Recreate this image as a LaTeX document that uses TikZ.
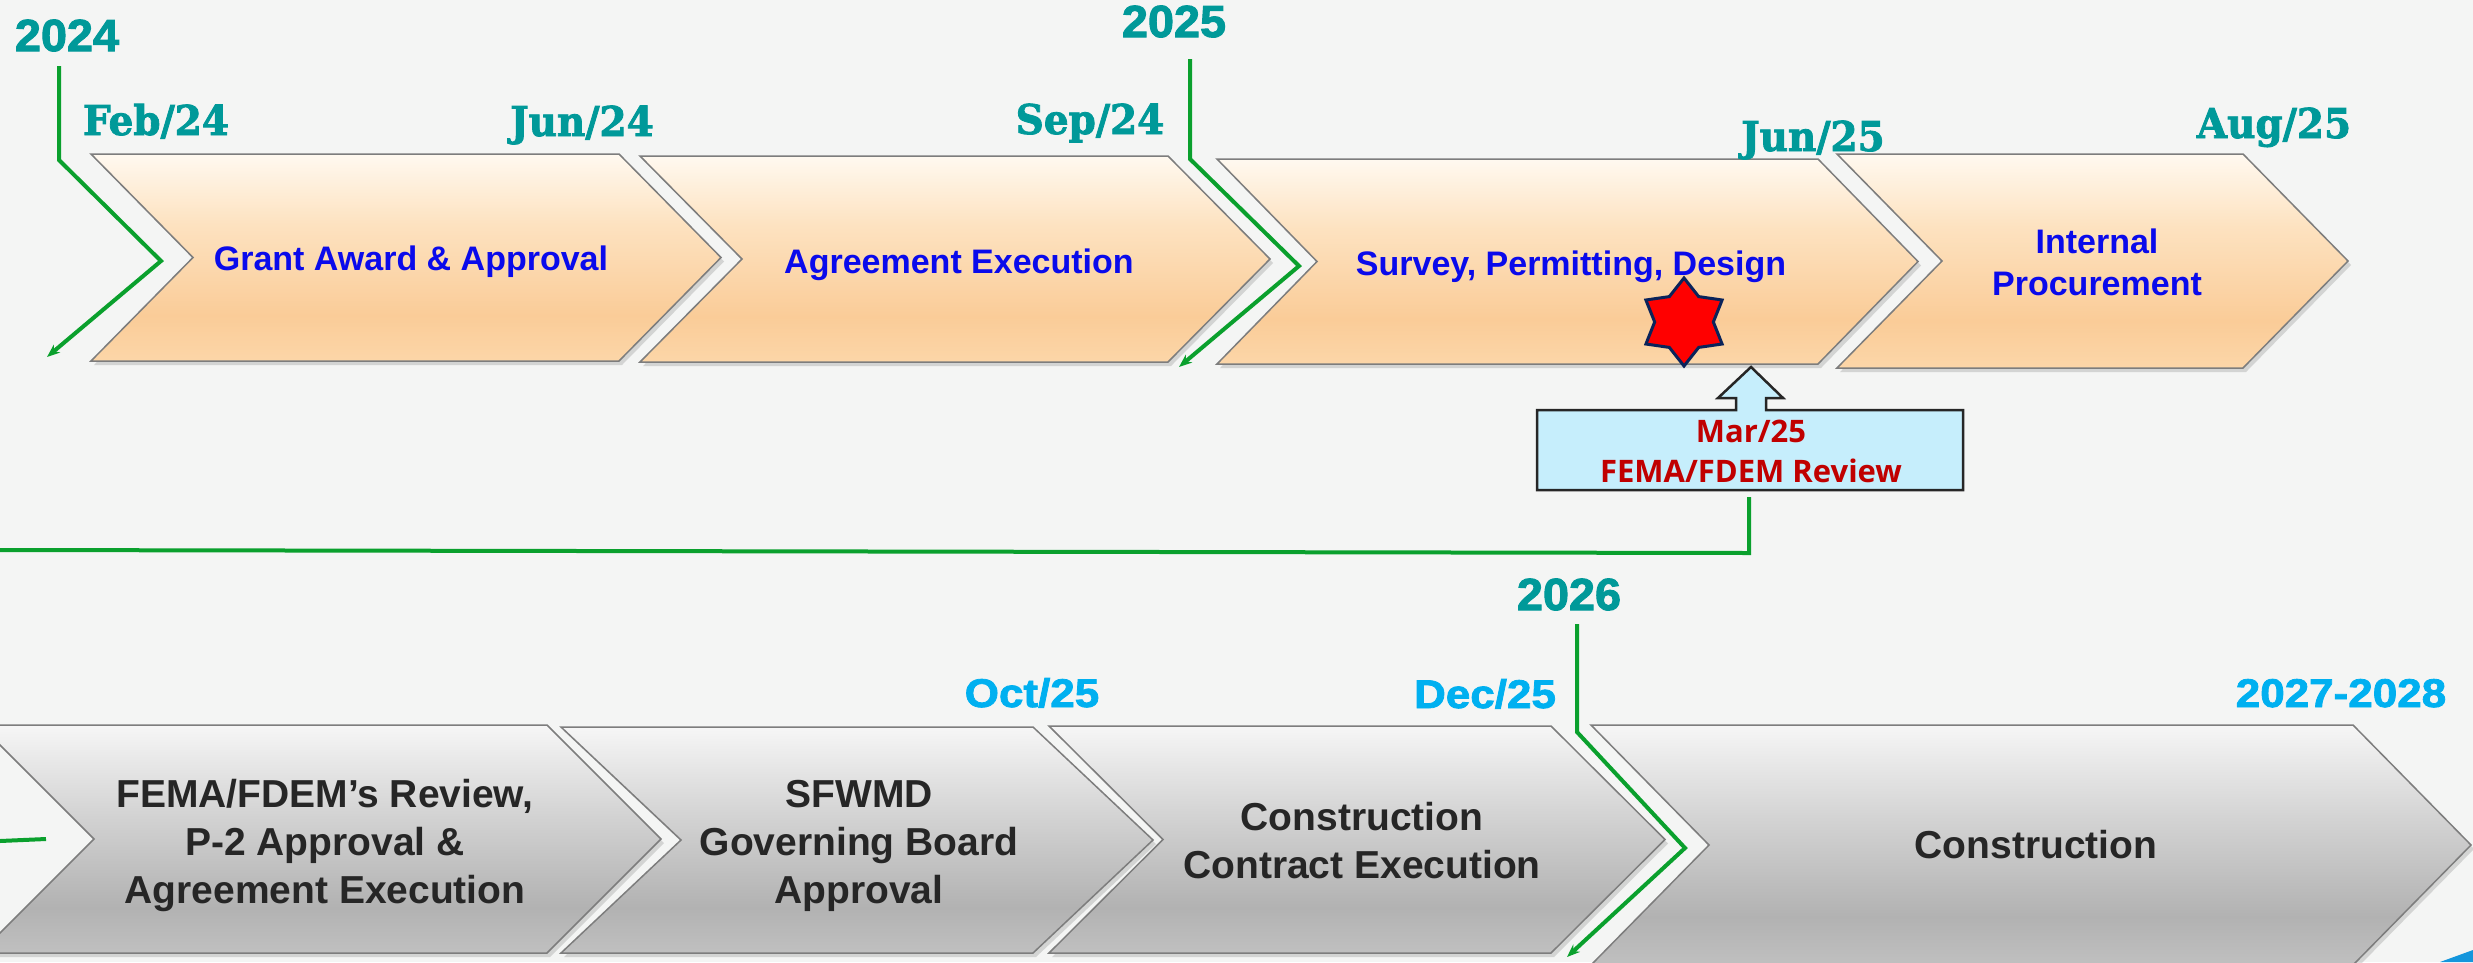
\documentclass[tikz,border=0pt]{standalone}
\usepackage{fontspec}
\setmainfont{Liberation Sans}
\newfontfamily\slabfont[FakeStretch=0.95,BoldFeatures={FakeBold=2}]{DejaVu Serif}
\newfontfamily\heavyfont[FakeStretch=1.04,BoldFeatures={FakeBold=2.2}]{Liberation Sans}
\newfontfamily\bheavyfont[FakeStretch=1.1,BoldFeatures={FakeBold=2}]{Liberation Sans}
\newfontfamily\callfont{Open Sans}
\usetikzlibrary{arrows.meta,shadows,shapes.geometric}

\definecolor{bgc}{RGB}{244,245,244}
\definecolor{pt}{RGB}{255,249,240}
\definecolor{pm}{RGB}{253,226,192}
\definecolor{pd}{RGB}{250,204,152}
\definecolor{pb}{RGB}{252,214,168}
\definecolor{gt}{RGB}{246,246,246}
\definecolor{gm}{RGB}{212,212,212}
\definecolor{gd}{RGB}{178,178,178}
\definecolor{gb}{RGB}{192,192,192}
\definecolor{chevedge}{RGB}{125,125,125}
\definecolor{tblue}{RGB}{10,10,235}
\definecolor{tgray}{RGB}{38,38,38}
\definecolor{teal1}{RGB}{0,153,153}
\definecolor{cyan1}{RGB}{0,176,240}
\definecolor{greenline}{RGB}{10,160,45}
\definecolor{darkred}{RGB}{192,0,0}
\definecolor{callbg}{RGB}{198,238,252}
\definecolor{navy}{RGB}{10,35,90}
\definecolor{cornerblue}{RGB}{20,150,220}

\pgfdeclareverticalshading{peachsh}{100bp}{color(0bp)=(pb); color(25bp)=(pb); color(36bp)=(pd); color(58bp)=(pm); color(75bp)=(pt); color(100bp)=(pt)}
\pgfdeclareverticalshading{greysh}{100bp}{color(0bp)=(gb); color(25bp)=(gb); color(35bp)=(gd); color(56bp)=(gm); color(75bp)=(gt); color(100bp)=(gt)}

\newcommand\chevpath[5]{(#1,#2) -- (#4,#2) -- ({#4+#5},{(#2+#3)/2}) -- (#4,#3) -- (#1,#3) -- ({#1+#5},{(#2+#3)/2}) -- cycle}

\tikzset{
  chev/.style={draw=chevedge, line width=1.5pt, line join=miter,
    drop shadow={shadow xshift=3pt, shadow yshift=-4pt, opacity=0.28}},
  peachchev/.style={chev, shading=peachsh},
  greychev/.style={chev, shading=greysh},
  toptext/.style={font=\fontsize{34}{42}\selectfont\bfseries, text=tblue, align=center, anchor=base, inner sep=0pt},
  bottext/.style={font=\fontsize{39}{48}\selectfont\bfseries, text=tgray, align=center, anchor=base, inner sep=0pt},
  monthlbl/.style={font=\slabfont\fontsize{41}{41}\selectfont\bfseries, text=teal1, anchor=base, inner sep=0pt},
  yearlbl/.style={font=\heavyfont\fontsize{45}{45}\selectfont\bfseries, text=teal1, anchor=base, inner sep=0pt},
  bmonthlbl/.style={font=\bheavyfont\fontsize{40}{40}\selectfont\bfseries, text=cyan1, anchor=base, inner sep=0pt},
  gpath/.style={draw=greenline, line width=4pt, line join=miter},
  garrow/.style={gpath, -{Stealth[length=13pt,width=10pt]}},
}

\begin{document}
\begin{tikzpicture}[x=1pt,y=-1pt]
\useasboundingbox (0,0) rectangle (2473,962);
\fill[bgc] (0,0) rectangle (2473,962);

% top row chevrons
\path[peachchev] \chevpath{91}{154}{361}{619}{102};
\path[peachchev] \chevpath{640}{156}{362}{1168}{102};
\path[peachchev] \chevpath{1217}{159}{364}{1818}{100};
\path[peachchev] \chevpath{1837}{154}{368}{2243}{105};

% bottom row chevrons
\path[greychev] \chevpath{-20}{725}{953}{547}{114};
\path[greychev] \chevpath{561}{727}{953}{1033}{120};
\path[greychev] \chevpath{1049}{726}{953}{1551}{114};
\path[greychev] \chevpath{1591}{725}{965}{2353}{118};

% corner decoration
\fill[cornerblue] (2440,962) -- (2473,950) -- (2473,962) -- cycle;

% green timeline markers
\coordinate (a1) at (59,66);   \coordinate (a2) at (59,160);
\coordinate (a3) at (161,261); \coordinate (a4) at (47,357);
\draw[garrow] (a1) -- (a2) -- (a3) -- (a4);
\coordinate (b1) at (1190,59);  \coordinate (b2) at (1190,159);
\coordinate (b3) at (1299,266); \coordinate (b4) at (1179,367);
\draw[garrow] (b1) -- (b2) -- (b3) -- (b4);
\coordinate (c1) at (1577,624); \coordinate (c2) at (1577,732);
\coordinate (c3) at (1685,848); \coordinate (c4) at (1567,957);
\draw[garrow] (c1) -- (c2) -- (c3) -- (c4);
\coordinate (d1) at (1749,497); \coordinate (d2) at (1749,553);
\coordinate (d3) at (0,550);
\draw[gpath] (d1) -- (d2) -- (d3);
\coordinate (e1) at (0,841); \coordinate (e2) at (46,839);
\draw[gpath] (e1) -- (e2);

% callout
\path[draw=black!85, line width=2.5pt, fill=callbg, line join=miter]
  (1537,410) -- (1736,410) -- (1736,398) -- (1718,398) -- (1751,367) -- (1783,398)
  -- (1766,398) -- (1766,410) -- (1963,410) -- (1963,490) -- (1537,490) -- cycle;
\node[font=\callfont\bfseries\fontsize{31}{40}\selectfont, text=darkred, align=center, anchor=base, inner sep=0pt]
  (callout) at (1751,482) {Mar/25\\FEMA/FDEM Review};

% star
\node[star, star points=6, star point ratio=1.5, minimum size=88pt, inner sep=0pt,
  draw=navy, line width=3pt, fill=red] (starmark) at (1684,322) {};

% labels
\node[yearlbl] (y2024) at (67,51) {2024};
\node[yearlbl] (y2025) at (1174,37) {2025};
\node[yearlbl] (y2026) at (1569,610) {2026};
\node[monthlbl] (feb24) at (156,135) {Feb/24};
\node[monthlbl] (jun24) at (582,136) {Jun/24};
\node[monthlbl] (sep24) at (1090,134) {Sep/24};
\node[monthlbl] (jun25) at (1813,151) {Jun/25};
\node[monthlbl] (aug25) at (2274,138) {Aug/25};
\node[bmonthlbl] (oct25) at (1032,707) {Oct/25};
\node[bmonthlbl] (dec25) at (1485,708) {Dec/25};
\node[bmonthlbl] (y2728) at (2341,707) {2027-2028};

% chevron texts (base anchor = baseline of last line)
\node[toptext] (t1) at (411,270) {Grant Award \& Approval};
\node[toptext] (t2) at (959,273) {Agreement Execution};
\node[toptext] (t3) at (1571,275) {Survey, Permitting, Design};
\node[toptext] (t4) at (2097,295) {Internal\\Procurement};
\node[bottext] (s1) at (325,903) {FEMA/FDEM’s Review,\\P-2 Approval \&\\Agreement Execution};
\node[bottext] (s2) at (859,903) {SFWMD\\Governing Board\\Approval};
\node[bottext] (s3) at (1362,878) {Construction\\Contract Execution};
\node[bottext] (s4) at (2036,858) {Construction};
\end{tikzpicture}
\end{document}
